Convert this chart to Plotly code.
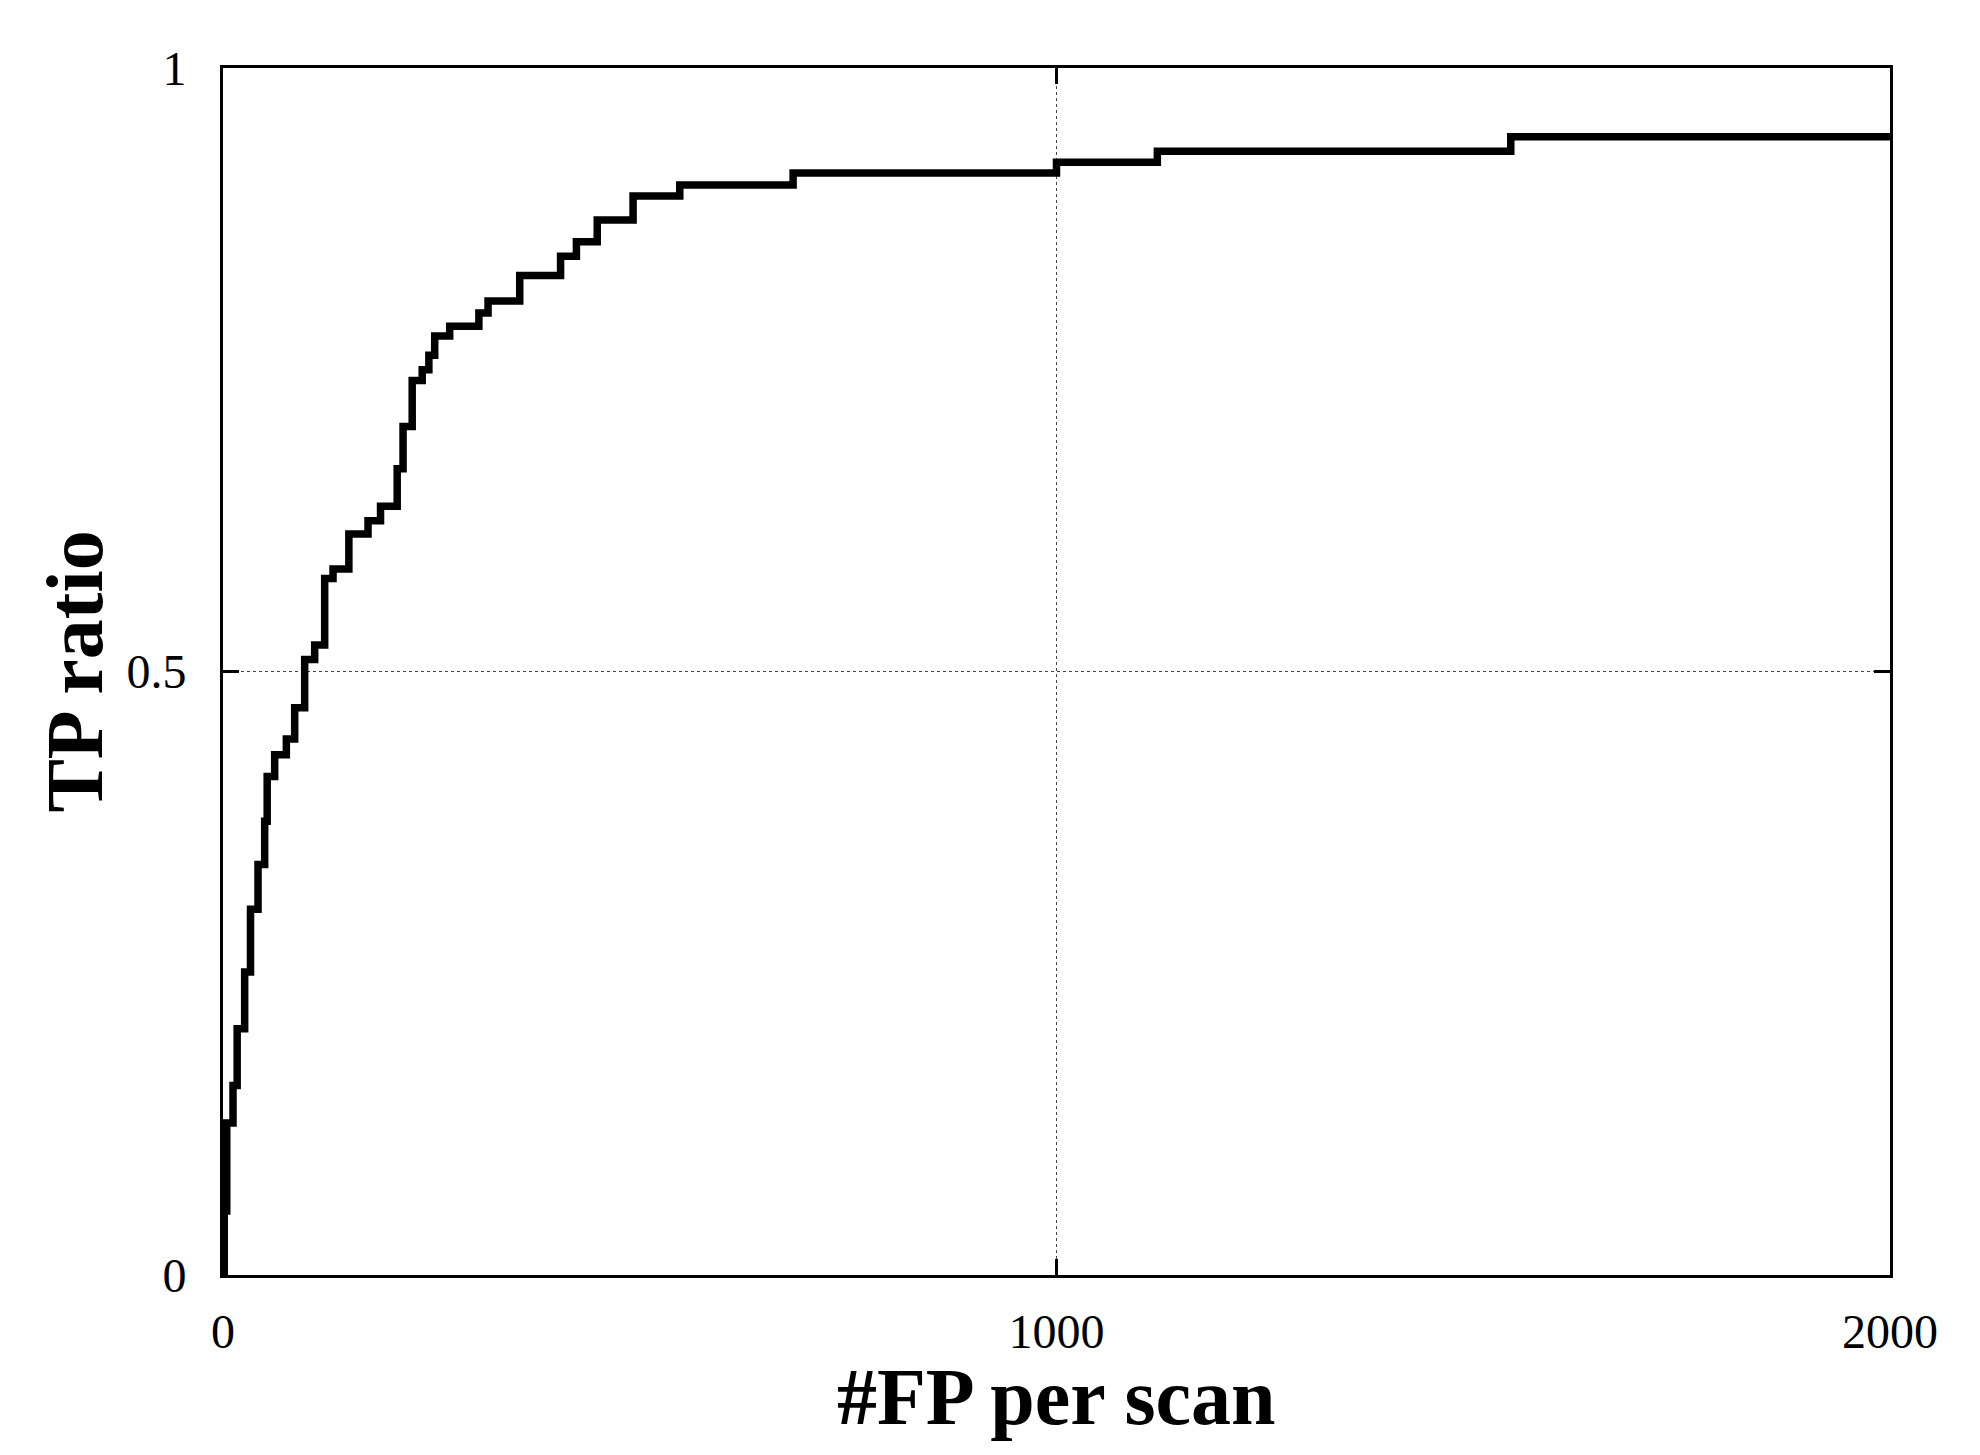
import plotly.graph_objects as go

# step points of the curve (#FP per scan, TP ratio)
fp_per_scan = [0, 1.5, 4.5, 12, 17, 26, 33, 42, 50, 53, 62, 76, 86, 98, 110, 122, 132,
               151, 174, 189, 209, 216, 227, 239, 247, 254, 272, 307, 318, 356, 405,
               424, 449, 492, 548, 684, 1000, 1121, 1545, 2000]
tp_ratio = [0, 0.053, 0.126, 0.157, 0.204, 0.251, 0.303, 0.34, 0.376, 0.413, 0.431,
            0.444, 0.47, 0.51, 0.522, 0.577, 0.585, 0.614, 0.625, 0.637, 0.668, 0.703,
            0.741, 0.75, 0.762, 0.778, 0.786, 0.797, 0.807, 0.828, 0.844, 0.856, 0.874,
            0.894, 0.903, 0.913, 0.922, 0.931, 0.943, 0.943]

x_ticks = [0, 1000, 2000]
x_tick_labels = ["0", "1000", "2000"]
y_ticks = [0, 0.5, 1]
y_tick_labels = ["0", "0.5", "1"]

fig = go.Figure()
fig.add_trace(go.Scatter(
    x=fp_per_scan, y=tp_ratio,
    mode='lines',
    line=dict(color='black', width=7.5, shape='hv'),
    showlegend=False,
))

axis_common = dict(
    showline=True, linecolor='black', linewidth=3, mirror='ticks',
    ticks='inside', ticklen=16, tickwidth=3, tickcolor='black',
    showgrid=True, gridcolor='#444', gridwidth=1, griddash='3px,3px',
    zeroline=False,
    tickfont=dict(family='Liberation Serif', size=48, color='black'),
)

fig.update_xaxes(range=[0, 2000], tickvals=x_ticks, ticktext=x_tick_labels,
                 ticklabelstandoff=12, **axis_common)
fig.update_yaxes(range=[0, 1], tickvals=y_ticks, ticktext=y_tick_labels,
                 ticklabelstandoff=24, **axis_common)

title_font = dict(family='Liberation Serif', size=80, color='black')
fig.add_annotation(text='<b>#FP per scan</b>', xref='paper', yref='paper',
                   x=0.5, y=0, xanchor='center', yanchor='middle', yshift=-122,
                   showarrow=False, font=title_font)
fig.add_annotation(text='<b>TP ratio</b>', xref='paper', yref='paper',
                   x=0, y=0.5, xanchor='center', yanchor='middle', xshift=-149,
                   textangle=-90, showarrow=False, font=title_font)

fig.update_layout(
    width=1980, height=1455,
    margin=dict(l=215, r=98, t=60, b=188),
    paper_bgcolor='white', plot_bgcolor='white',
)

fig.write_html("out.html")
